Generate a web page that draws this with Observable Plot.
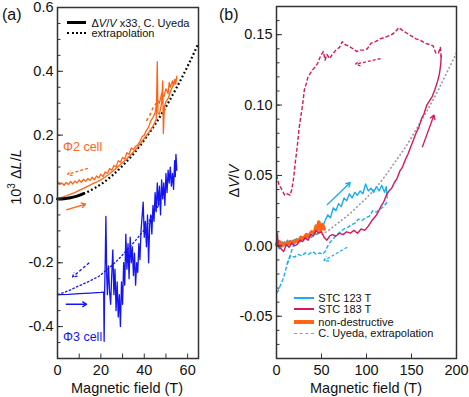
<!DOCTYPE html>
<html><head><meta charset="utf-8">
<script src="https://cdn.jsdelivr.net/npm/d3@7"></script>
<script src="https://cdn.jsdelivr.net/npm/@observablehq/plot@0.6"></script>
<style>
body{margin:0;background:#fff;}
#wrap{position:relative;width:469px;height:397px;font-family:"Liberation Sans",Arial,Helvetica,sans-serif;color:#111;}
#wrap svg{position:absolute;top:0;overflow:visible;}
.t{position:absolute;white-space:nowrap;line-height:1;}
.cy{transform:translateY(-50%);}
.cc{transform:translate(-50%,-50%);}
.rot{transform:translate(-50%,-50%) rotate(-90deg);}
.sw{position:absolute;height:0;}
</style></head><body><div id="wrap"></div>
<script>
// ---------- Panel (a) data : x = field (T), y = 10^3 dL/L ----------
const aXTicks = [0, 20, 40, 60];
const aXMinor = [0, 10, 20, 30, 40, 50, 60];
const aYTicks = [-0.4, -0.2, 0.0, 0.2, 0.4, 0.6];
const aYMinor = [-0.45,-0.4,-0.35,-0.3,-0.25,-0.2,-0.15,-0.1,-0.05,0,0.05,0.1,0.15,0.2,0.25,0.3,0.35,0.4,0.45,0.5,0.55];
const uyedaA = [[0,0],[3,0.001],[6,0.004],[9,0.009],[12,0.017]];
const uyedaAExtrap = [[12,0.017],[15,0.026],[20,0.046],[25,0.072],[30,0.104],[35,0.141],[40,0.185],[45,0.234],[50,0.289],[55,0.35],[60,0.416],[65,0.488]];
const phi2Up = [[0,0.0],[2,0.005],[4,0.01],[6,0.015],[8,0.02],[10,0.027],[12,0.033],[14,0.04],[16,0.047],[18,0.053],[20,0.06],[22,0.069],[24,0.079],[26,0.09],[28,0.102],[30,0.114],[32,0.126],[34,0.14],[36,0.155],[38,0.172],[40,0.19],[42,0.208],[44,0.228],[45.5,0.25],[46,0.43],[46.3,0.27],[47,0.265],[48,0.3],[48.5,0.37],[48.8,0.205],[49.3,0.29],[50,0.305],[51,0.315],[52,0.335],[53,0.352],[54,0.365],[55,0.378]];
const phi2Down = [[55,0.385],[54.5,0.36],[54,0.375],[53.5,0.355],[53,0.37],[52,0.35],[51.5,0.365],[51,0.33],[50,0.345],[49,0.32],[48,0.33],[47,0.3],[46,0.31],[45,0.27],[44,0.255],[43,0.245],[42,0.225],[41,0.215],[40,0.2],[39,0.195],[38,0.18],[37,0.17],[36,0.165],[35,0.155],[34,0.16],[33,0.14],[32,0.145],[31,0.125],[30,0.13],[29,0.115],[28,0.12],[27,0.1],[26,0.105],[25,0.09],[24,0.095],[23,0.08],[22,0.085],[21,0.07],[20,0.078],[19,0.066],[18,0.072],[17,0.06],[16,0.068],[15,0.058],[14,0.064],[13,0.055],[12,0.062],[11,0.052],[10,0.06],[9,0.05],[8,0.056],[7,0.047],[6,0.055],[5,0.045],[4,0.052],[3,0.043],[2,0.05],[1,0.045],[0,0.05]];
const phi2Dash = [[41,0.245],[42.5,0.262],[44,0.285],[45.5,0.3]];
const phi3Up = [[0,-0.3],[5,-0.299],[10,-0.297],[15,-0.295],[20,-0.293],[21.3,-0.292],[21.5,-0.446],[21.7,-0.3],[22,-0.2],[22.3,-0.055],[22.7,-0.24],[23,-0.3],[23.5,-0.21],[24,-0.29],[24.5,-0.33],[25,-0.24],[25.5,-0.16],[26,-0.3],[26.5,-0.22],[27,-0.35],[27.5,-0.26],[28,-0.37],[28.5,-0.3],[29,-0.4],[29.5,-0.26],[30,-0.33],[30.5,-0.2],[31,-0.27],[31.5,-0.11],[32,-0.22],[32.5,-0.14],[33,-0.25],[33.5,-0.12],[34,-0.2],[34.5,-0.15],[35,-0.24],[35.5,-0.17],[36,-0.27],[36.5,-0.2],[37,-0.23],[37.5,-0.14],[38,-0.19],[38.5,-0.1],[39.5,-0.01],[40,-0.12],[40.5,-0.07],[41,-0.15],[41.5,-0.05],[42,-0.2],[42.5,-0.08],[43,-0.05],[43.5,-0.11],[44,-0.02],[44.5,-0.07],[45,0.02],[45.5,-0.04],[46,0.05],[46.5,-0.02],[47,0.04],[47.5,-0.05],[48,0.06],[48.5,0.0],[49,0.05],[49.5,-0.02],[50,0.08],[50.5,0.02],[51,0.09],[51.5,0.05],[52,0.1],[52.5,0.04],[53,0.08],[53.5,0.03],[54,0.12],[54.3,0.07],[54.6,0.14],[55,0.09]];
const phi3Down = [[0,-0.3],[5,-0.288],[9,-0.275],[14,-0.26],[19,-0.243],[24,-0.215],[28,-0.19],[32,-0.16],[36,-0.13],[40,-0.097],[43,-0.06],[45,-0.034],[48,-0.01]];
// arrows [x1,y1,x2,y2,colour]
const aArrowsSolid = [[4,-0.034,13,-0.016,"orange"],[3.8,-0.33,13.5,-0.33,"blue"]];
const aArrowsDash = [[14,0.096,4.6,0.077,"orange"],[14.6,-0.2,6.9,-0.245,"blue"]];

// ---------- Panel (b) data : x = field (T), y = dV/V ----------
const bXTicks = [0, 50, 100, 150, 200];
const bYTicks = [-0.05, 0.0, 0.05, 0.10, 0.15];
const bYMinor = [-0.07,-0.06,-0.05,-0.04,-0.03,-0.02,-0.01,0,0.01,0.02,0.03,0.04,0.05,0.06,0.07,0.08,0.09,0.1,0.11,0.12,0.13,0.14,0.15,0.16];
const uyedaB = [[50,0.008],[60,0.012],[70,0.017],[80,0.022],[90,0.028],[100,0.034],[110,0.041],[120,0.049],[130,0.058],[140,0.067],[150,0.077],[160,0.088],[170,0.099],[180,0.111],[190,0.124],[200,0.137]];
const stc123Up = [[0,0.001],[3,-0.002],[6,0.003],[9,0.0],[12,0.004],[15,0.001],[18,0.004],[21,0.002],[24,0.005],[27,0.003],[30,0.006],[33,0.005],[36,0.007],[39,0.006],[42,0.009],[45,0.008],[48,0.011],[51,0.013],[54,0.018],[57,0.022],[60,0.02],[63,0.027],[66,0.025],[69,0.03],[72,0.028],[75,0.034],[78,0.032],[81,0.037],[84,0.034],[87,0.038],[90,0.036],[93,0.039],[96,0.037],[99,0.044],[102,0.039],[105,0.041],[108,0.038],[111,0.042],[114,0.039],[117,0.043],[120,0.038],[122,0.042],[123,0.034]];
const stc123Down = [[123,0.031],[119,0.028],[115,0.026],[111,0.024],[107,0.025],[103,0.021],[99,0.02],[95,0.018],[91,0.019],[87,0.016],[83,0.015],[79,0.013],[75,0.012],[71,0.01],[67,0.008],[63,0.005],[60,0.003],[57,0.0],[54,-0.004],[51,-0.006],[48,-0.005],[44,-0.006],[40,-0.004],[36,-0.006],[32,-0.005],[28,-0.007],[24,-0.006],[20,-0.008],[16,-0.007],[13,-0.01],[11,-0.015],[9,-0.02],[7,-0.024],[5,-0.027],[3,-0.03],[1,-0.033],[0,-0.035]];
const stc123Dash2 = [[12,-0.013],[15,-0.007],[18,-0.001],[21,0.003],[23,0.006]];
const stc183Up = [[0,0.002],[1,0.009],[2,0.0],[5,-0.002],[8,-0.004],[11,0.001],[14,-0.001],[17,0.002],[20,0.0],[23,0.001],[26,0.004],[29,0.003],[32,0.006],[35,0.004],[38,0.008],[41,0.007],[44,0.011],[47,0.009],[50,0.01],[53,0.006],[56,0.004],[59,0.007],[62,0.008],[66,0.007],[70,0.009],[74,0.008],[78,0.01],[82,0.009],[86,0.011],[90,0.009],[94,0.012],[98,0.011],[102,0.014],[106,0.018],[110,0.021],[113,0.024],[116,0.028],[119,0.031],[122,0.036],[125,0.039],[128,0.041],[131,0.045],[134,0.048],[137,0.053],[140,0.056],[143,0.061],[146,0.065],[149,0.07],[152,0.075],[155,0.08],[158,0.084],[161,0.09],[164,0.094],[167,0.1],[170,0.103],[173,0.106],[176,0.111],[179,0.117],[181,0.122],[182.5,0.129],[183,0.135]];
const stc183Down = [[183,0.134],[182,0.141],[180,0.137],[177,0.137],[174,0.142],[170,0.143],[165,0.144],[160,0.146],[155,0.147],[150,0.149],[145,0.151],[140,0.153],[136,0.155],[132,0.152],[128,0.15],[124,0.149],[120,0.148],[115,0.147],[110,0.145],[105,0.144],[101,0.14],[97,0.139],[93,0.139],[89,0.138],[85,0.14],[80,0.142],[76,0.143],[73,0.145],[70,0.141],[66,0.139],[62,0.136],[59,0.133],[56,0.136],[54,0.132],[52,0.138],[49,0.135],[46,0.13],[43,0.127],[40,0.125],[37,0.122],[35,0.12],[33,0.115],[31,0.111],[29,0.1],[27,0.092],[25,0.083],[23,0.07],[21,0.06],[19,0.048],[17,0.04],[15,0.036],[12,0.037],[9,0.036],[6,0.04],[3,0.043],[0,0.05]];
const nonDestr = [[0,0.001],[3,0.003],[6,0.0],[9,0.002],[12,0.001],[15,0.003],[18,0.002],[21,0.004],[24,0.003],[27,0.006],[30,0.005],[33,0.008],[36,0.007],[39,0.01],[42,0.009],[44,0.014],[46,0.012],[47,0.017],[49,0.011],[51,0.015],[53,0.012]];
const bArrowsSolid = [[56,0.029,82,0.045,"cyan"],[162,0.07,175,0.093,"crimson"]];
const bArrowsDash = [[78.5,-0.001,52.6,-0.0106,"cyan"],[115.6,0.133,87.8,0.129,"crimson"]];

// ---------- colours / text ----------
const COL = {orange:"#ff6414", blue:"#1414f5", cyan:"#18aef2", crimson:"#d5175c", gray:"#9a9a9a", black:"#000"};
const legendA = ["ΔV/V x33, C. Uyeda", "extrapolation"];
const legendB = ["STC 123 T", "STC 183 T", "non-destructive", "C. Uyeda, extrapolation"];
const FONT = '"Liberation Sans", Arial, Helvetica, sans-serif';
const X = d => d[0], Y = d => d[1];

function axes(xT, xMinor, yT, yMinor, fmtX, fmtY) {
  return [
    Plot.axisY(yMinor, {tickSize: -3.5, text: null, label: null, stroke: "#333"}),
    Plot.axisY(yT, {tickSize: -6, text: null, label: null, stroke: "#333"}),
    Plot.axisY(yT, {tickSize: 0, tickPadding: 4, tickFormat: fmtY, label: null}),
    Plot.axisX(xMinor, {tickSize: -4.5, text: null, label: null, stroke: "#333"}),
    Plot.axisX(xT, {tickSize: 0, tickPadding: 6, tickFormat: fmtX, label: null}),
    Plot.frame({stroke: "#333", strokeWidth: 1.5})
  ];
}
function arrows(list, dashed) {
  return Plot.arrow(list, {x1: d=>d[0], y1: d=>d[1], x2: d=>d[2], y2: d=>d[3], stroke: d=>COL[d[4]], strokeWidth: 1.3, headLength: 6, strokeLinecap: "butt", strokeDasharray: dashed ? "3,2" : null});
}
const style = {fontSize: "14.5px", fontFamily: FONT, color: "#111", background: "transparent", overflow: "visible"};
const dashed = {strokeDasharray: "4,2", strokeLinecap: "butt"};

const plotA = Plot.plot({
  width: 230, height: 397, marginTop: 7, marginBottom: 39, marginLeft: 57, marginRight: 32,
  x: {domain: [0, 65]}, y: {domain: [-0.5, 0.6]},
  style,
  marks: [
    Plot.line(phi3Down, {x: X, y: Y, stroke: COL.blue, strokeWidth: 1.3, strokeDasharray: "2.5,1.5", strokeLinecap: "butt"}),
    Plot.line(phi3Up, {x: X, y: Y, stroke: COL.blue, strokeWidth: 1.3}),
    Plot.line(uyedaAExtrap, {x: X, y: Y, stroke: COL.black, strokeWidth: 2.2, strokeDasharray: "1.8,2.4", strokeLinecap: "butt", curve: "natural"}),
    Plot.line(phi2Down, {x: X, y: Y, stroke: COL.orange, strokeWidth: 1.3}),
    Plot.line(phi2Up, {x: X, y: Y, stroke: COL.orange, strokeWidth: 1.3}),
    Plot.line(phi2Dash, {x: X, y: Y, stroke: COL.orange, strokeWidth: 1.5, strokeDasharray: "3,3", strokeLinecap: "butt"}),
    Plot.line(uyedaA, {x: X, y: Y, stroke: COL.black, strokeWidth: 3, curve: "natural"}),
    arrows(aArrowsSolid, false),
    arrows(aArrowsDash, true),
    ...axes(aXTicks, aXMinor, aYTicks, aYMinor, d => String(d), d => d.toFixed(1))
  ]
});
plotA.style.left = "0px";

const plotB = Plot.plot({
  width: 239, height: 397, marginTop: 6, marginBottom: 39, marginLeft: 46, marginRight: 13,
  x: {domain: [0, 200]}, y: {domain: [-0.08, 0.17]},
  style,
  marks: [
    Plot.line(uyedaB, {x: X, y: Y, stroke: COL.gray, strokeWidth: 1.6, strokeDasharray: "2,2", strokeLinecap: "butt", curve: "natural"}),
    Plot.line(stc123Down, {x: X, y: Y, stroke: COL.cyan, strokeWidth: 1.4, ...dashed}),
    Plot.line(stc123Dash2, {x: X, y: Y, stroke: COL.cyan, strokeWidth: 1.4, ...dashed}),
    Plot.line(stc123Up, {x: X, y: Y, stroke: COL.cyan, strokeWidth: 1.4}),
    Plot.line(nonDestr, {x: X, y: Y, stroke: COL.orange, strokeWidth: 3.5}),
    Plot.line(stc183Down, {x: X, y: Y, stroke: COL.crimson, strokeWidth: 1.4, ...dashed}),
    Plot.line(stc183Up, {x: X, y: Y, stroke: COL.crimson, strokeWidth: 1.4}),
    arrows(bArrowsSolid, false),
    arrows(bArrowsDash, true),
    ...axes(bXTicks, bXTicks, bYTicks, bYMinor, d => String(d), d => d.toFixed(2))
  ]
});
plotB.style.left = "230px";

const wrap = document.getElementById("wrap");
wrap.appendChild(plotA);
wrap.appendChild(plotB);

function text(html, x, y, cls, extra) {
  const d = document.createElement("div");
  d.className = "t " + cls;
  d.style.left = x + "px"; d.style.top = y + "px";
  Object.assign(d.style, extra || {});
  d.innerHTML = html;
  wrap.appendChild(d);
}
function swatch(x, y, w, border) {
  const d = document.createElement("div");
  d.className = "sw";
  d.style.left = x + "px"; d.style.width = w + "px";
  d.style.borderTop = border;
  wrap.appendChild(d);
  d.style.top = (y - parseFloat(border) / 2) + "px";
}
// panel tags
text("(a)", 2, 15, "cy", {fontSize: "16px"});
text("(b)", 219, 15, "cy", {fontSize: "16px"});
// axis titles
text("Magnetic field (T)", 127, 388, "cc", {fontSize: "14.5px"});
text("Magnetic field (T)", 366, 388, "cc", {fontSize: "14.5px"});
text("10<sup style='font-size:10px;vertical-align:6px'>3</sup>&nbsp;Δ<i>L</i>/<i>L</i>", 15, 177, "rot", {fontSize: "14.5px"});
text("Δ<i>V</i>/<i>V</i>", 234, 181, "rot", {fontSize: "14.5px"});
// annotations
text("Φ2 cell", 63, 147, "cy", {fontSize: "12.5px", color: COL.orange});
text("Φ3 cell", 63, 337, "cy", {fontSize: "12.5px", color: COL.blue});
// legend (a)
const legA_y = [22.7, 33.3];
swatch(67, legA_y[0], 19, "3px solid #000");
swatch(67, legA_y[1], 19, "2.2px dotted #000");
text("Δ<i>V</i>/<i>V</i> x33, C. Uyeda", 91.5, legA_y[0], "cy", {fontSize: "11px"});
text(legendA[1], 91.5, legA_y[1], "cy", {fontSize: "11px"});
// legend (b)
const legB_y = [297.5, 309.3, 321.5, 333.3];
const legB_border = ["2px solid " + COL.cyan, "2px solid " + COL.crimson, "4px solid " + COL.orange, "1.5px dashed " + COL.gray];
legendB.forEach((l, i) => {
  swatch(293.5, legB_y[i], 20, legB_border[i]);
  text(l, 318.3, legB_y[i], "cy", {fontSize: "11px"});
});
</script></body></html>
